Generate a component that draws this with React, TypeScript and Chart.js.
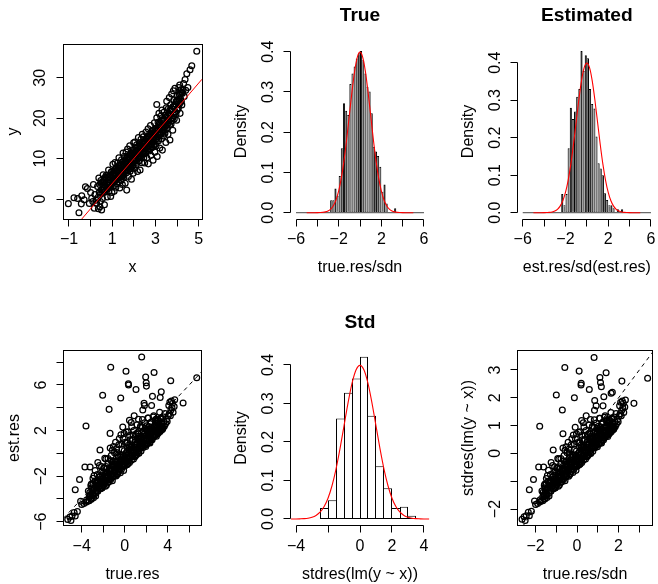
import React, { useEffect, useRef } from "react";
import { Chart, registerables } from "chart.js";

Chart.register(...registerables);

const M = "\u2212";
const FONT = '"Liberation Sans", Arial, Helvetica, sans-serif';

// ---------------- Panel 1: y vs x ----------------
const xyPoints: number[][] = [
  [-1.03, -1.15], [-0.77, 0.33], [-0.54, -3.4], [-0.41, 0.8], [-0.43, -1.2], [-0.24, 3.05], [-0.15, 2.6],
  [-0.06, -1.1], [0.0, 1.6], [0.13, 3.6], [0.17, -2.3], [0.28, -1.1], [0.36, -2.4], [0.43, -1.9], [0.51, -2.7],
  [0.05, 0.2], [0.2, 1.1], [0.25, -0.3], [0.1, -0.6], [-0.3, -0.2], [-0.6, 0.1],
  [0.32, 3.1], [0.35, 0.4], [0.38, 5.2], [0.42, 1.8], [0.45, -0.6], [0.48, 3.9], [0.52, 2.2], [0.55, 0.1],
  [0.58, 6.0], [0.61, 3.0], [0.64, -1.4], [0.66, 4.6], [0.69, 1.9], [0.72, 5.9], [0.74, 2.8], [0.77, 0.5],
  [0.8, 4.1], [0.83, 7.2], [0.85, 2.0], [0.88, 5.3], [0.9, 3.4], [0.93, 0.6], [0.95, 6.6], [0.97, 4.4], [0.99, 1.6],
  [1.01, 5.8], [1.03, 8.6], [1.05, 3.2], [1.07, 6.9], [1.09, 1.9], [1.11, 4.7], [1.13, 9.0], [1.15, 6.1],
  [1.17, 2.9], [1.19, 7.8], [1.21, 5.2], [1.23, 3.8], [1.25, 8.9], [1.27, 6.6], [1.29, 4.3], [1.31, 10.2],
  [1.33, 7.1], [1.35, 2.7], [1.37, 5.9], [1.39, 8.3], [1.41, 4.6], [1.43, 9.7], [1.45, 6.8], [1.47, 3.6],
  [1.49, 7.9], [1.5, 11.4], [1.46, 5.5], [1.34, 7.6], [1.22, 6.9], [1.12, 5.1],
  [1.52, 8.8], [1.54, 5.4], [1.56, 10.6], [1.58, 7.2], [1.6, 3.9], [1.62, 9.4], [1.64, 11.6], [1.66, 6.5],
  [1.67, 2.2], [1.69, 8.7], [1.71, 12.4], [1.73, 7.8], [1.75, 5.6], [1.77, 10.1], [1.79, 8.4], [1.81, 13.2],
  [1.83, 6.9], [1.85, 11.0], [1.87, 9.2], [1.89, 4.9], [1.91, 12.1], [1.93, 8.1], [1.95, 10.7], [1.97, 6.4],
  [1.99, 13.9], [1.55, 7.9], [1.63, 8.0], [1.72, 9.9], [1.8, 10.9], [1.88, 7.5], [1.96, 9.3], [1.68, 10.2],
  [2.01, 11.2], [2.03, 7.6], [2.05, 14.1], [2.07, 9.8], [2.09, 12.6], [2.11, 8.5], [2.13, 13.4], [2.15, 10.9],
  [2.17, 6.8], [2.19, 12.0], [2.21, 15.2], [2.23, 9.4], [2.25, 11.7], [2.27, 13.9], [2.29, 7.2], [2.31, 10.6],
  [2.33, 14.8], [2.35, 12.3], [2.37, 9.0], [2.39, 16.0], [2.41, 11.5], [2.43, 13.1], [2.44, 15.4], [2.46, 10.2],
  [2.48, 12.8], [2.5, 8.9], [2.04, 10.1], [2.12, 11.9], [2.2, 10.3], [2.28, 12.4], [2.36, 11.1], [2.45, 14.0],
  [2.52, 14.4], [2.54, 11.3], [2.56, 16.6], [2.58, 13.0], [2.6, 10.2], [2.62, 15.5], [2.64, 12.4], [2.66, 17.4],
  [2.67, 8.7], [2.69, 14.2], [2.71, 11.9], [2.73, 16.1], [2.75, 13.5], [2.77, 18.2], [2.79, 10.8], [2.81, 15.0],
  [2.83, 12.7], [2.85, 17.0], [2.87, 14.6], [2.89, 9.6], [2.91, 16.4], [2.93, 13.3], [2.95, 18.9], [2.97, 11.6],
  [2.99, 15.9], [2.55, 13.8], [2.65, 14.9], [2.74, 15.3], [2.84, 14.1], [2.94, 15.2],
  [3.01, 17.3], [3.03, 13.1], [3.06, 20.1], [3.06, 23.4], [3.08, 10.5], [3.1, 16.2], [3.12, 19.0], [3.14, 14.4],
  [3.16, 21.2], [3.18, 17.8], [3.2, 12.6], [3.22, 15.9], [3.24, 20.5], [3.26, 18.1], [3.28, 14.9], [3.3, 22.0],
  [3.32, 12.1], [3.34, 17.2], [3.36, 19.7], [3.38, 15.6], [3.4, 21.5], [3.42, 18.4], [3.44, 16.3], [3.46, 20.8],
  [3.48, 14.0], [3.5, 22.6], [3.15, 17.0], [3.35, 18.8],
  [3.52, 24.2], [3.54, 17.6], [3.56, 20.7], [3.58, 16.0], [3.6, 22.4], [3.62, 19.3], [3.64, 25.1], [3.67, 14.6],
  [3.68, 21.0], [3.7, 23.3], [3.72, 18.5], [3.75, 26.0], [3.77, 20.2], [3.8, 17.0], [3.82, 22.9], [3.83, 26.8],
  [3.85, 24.5], [3.87, 19.8], [3.9, 27.4], [3.92, 21.6], [3.95, 24.0], [3.98, 19.5],
  [4.02, 25.7], [4.05, 22.4], [4.08, 27.6], [4.1, 26.0], [4.14, 21.2], [4.16, 24.8], [4.2, 27.1], [4.22, 23.3],
  [4.25, 26.2], [4.28, 27.0], [4.3, 28.6], [4.33, 25.4], [4.37, 29.6], [4.4, 26.9], [4.45, 31.0], [4.5, 27.6],
  [4.6, 32.0], [4.68, 33.0], [4.91, 36.6], [4.12, 28.2],
];
const xyPointsCore: number[][] = [
  [0.4, 1.6], [0.425, 3.6], [0.45, 1.1], [0.475, 4.6], [0.5, 2.3], [0.525, 4.2], [0.55, 1.7], [0.575, 4.3],
  [0.6, 2.2], [0.625, 4.2], [0.65, 1.7], [0.675, 5.4], [0.7, 2.9], [0.725, 5.1], [0.75, 2.6], [0.775, 5.9],
  [0.8, 3.4], [0.825, 5.3], [0.85, 3.4], [0.875, 5.9], [0.9, 2.9], [0.925, 6.0], [0.95, 3.1], [0.975, 6.8],
  [1.0, 3.9], [1.025, 6.0], [1.05, 4.5], [1.075, 6.3], [1.1, 4.3], [1.125, 7.3], [1.15, 4.6], [1.175, 7.0],
  [1.2, 5.0], [1.225, 7.0], [1.25, 5.6], [1.275, 7.8], [1.3, 5.2], [1.325, 8.4], [1.35, 5.9], [1.375, 8.2],
  [1.4, 5.7], [1.425, 8.5], [1.45, 5.6], [1.475, 9.2], [1.5, 6.6], [1.525, 8.6], [1.55, 6.2], [1.575, 9.2],
  [1.6, 7.1], [1.625, 9.0], [1.65, 7.1], [1.675, 10.1], [1.7, 7.7], [1.725, 10.5], [1.75, 7.8], [1.775, 10.0],
  [1.8, 7.9], [1.825, 10.5], [1.85, 7.6], [1.875, 11.3], [1.9, 8.8], [1.925, 10.8], [1.95, 8.4], [1.975, 11.7],
  [2.0, 9.3], [2.025, 11.4], [2.05, 9.5], [2.075, 11.7], [2.1, 9.8], [2.125, 12.0], [2.15, 9.1], [2.175, 12.6],
  [2.2, 10.4], [2.225, 12.4], [2.25, 10.2], [2.275, 13.1], [2.3, 11.1], [2.325, 13.0], [2.35, 10.3], [2.375, 13.8],
  [2.4, 11.5], [2.425, 13.6], [2.45, 11.1], [2.475, 14.2], [2.5, 12.3], [2.525, 14.1], [2.55, 11.6], [2.575, 14.9],
  [2.6, 12.8], [2.625, 14.7], [2.65, 12.3], [2.675, 15.4], [2.7, 13.2], [2.725, 15.6], [2.75, 12.4], [2.775, 15.9],
  [2.8, 13.6], [2.825, 16.0], [2.85, 13.0], [2.875, 16.9], [2.9, 14.1], [2.925, 16.2], [2.95, 13.5], [2.975, 17.3],
  [3.0, 14.7], [3.025, 16.8], [3.05, 15.0], [3.075, 17.2], [3.1, 15.4], [3.125, 17.6], [3.15, 14.8], [3.175, 18.6],
  [3.2, 16.3], [3.225, 18.4], [3.25, 16.2], [3.275, 19.4], [3.3, 17.0], [3.325, 19.6], [3.35, 16.5], [3.375, 19.4],
  [3.4, 17.7], [3.425, 19.7], [3.45, 17.0], [3.475, 20.8], [3.5, 18.2], [3.525, 20.3], [3.55, 18.5], [3.575, 20.7],
  [3.6, 18.9], [3.625, 21.1], [3.65, 18.3], [3.675, 22.1], [3.7, 19.8], [3.725, 21.9], [3.75, 19.3], [3.775, 22.2],
  [3.8, 20.0], [3.825, 22.9], [3.85, 20.7], [3.875, 22.9], [3.9, 21.4], [3.925, 23.5], [3.95, 21.0], [3.975, 24.3],
  [4.0, 22.0], [4.025, 24.4], [4.05, 22.5], [4.075, 24.7], [4.1, 23.4], [4.125, 25.6], [4.15, 23.9], [4.175, 26.1],
  [4.2, 24.2], [4.225, 26.4],
];
const FIT_INTERCEPT = -2.4;
const FIT_SLOPE = 6.22;

// ---------------- Histograms ----------------
const BREAK_MIN = -6;
const BREAK_MAX = 6;
const NARROW_BIN = 0.2;
const trueBinLeft = [-2.8, -2.6, -2.4, -2.2, -2.0, -1.8, -1.6, -1.4, -1.2, -1.0, -0.8, -0.6, -0.4, -0.2, 0.0,
  0.2, 0.4, 0.6, 0.8, 1.0, 1.2, 1.4, 1.6, 1.8, 2.0, 2.2, 2.4, 3.2];
const trueDensity = [0.031, 0.031, 0.06, 0.042, 0.091, 0.16, 0.272, 0.253, 0.243, 0.32, 0.346, 0.363, 0.383, 0.396,
  0.402, 0.379, 0.346, 0.313, 0.301, 0.247, 0.164, 0.152, 0.141, 0.114, 0.052, 0.07, 0.023, 0.011];
const estBinLeft = [-2.4, -2.2, -2.0, -1.8, -1.6, -1.4, -1.2, -1.0, -0.8, -0.6, -0.4, -0.2, 0.0, 0.2, 0.4, 0.6,
  0.8, 1.0, 1.2, 1.4, 1.6, 1.8, 2.0, 2.2, 2.4, 2.8, 3.2];
const estDensity = [0.05, 0.02, 0.05, 0.172, 0.28, 0.25, 0.27, 0.309, 0.33, 0.431, 0.378, 0.42, 0.412, 0.33, 0.29,
  0.278, 0.203, 0.132, 0.118, 0.1, 0.052, 0.034, 0.02, 0.02, 0.012, 0.009, 0.009];
const WIDE_BIN = 0.5;
const stdBinLeft = [-2.5, -2.0, -1.5, -1.0, -0.5, 0.0, 0.5, 1.0, 1.5, 2.0, 2.5, 3.0];
const stdDensity = [0.0286, 0.0485, 0.261, 0.328, 0.365, 0.421, 0.268, 0.137, 0.08, 0.0286, 0.032, 0.0087];

const normX = [-5, -4.75, -4.5, -4.25, -4, -3.75, -3.5, -3.25, -3, -2.75, -2.5, -2.25, -2, -1.75, -1.5, -1.25, -1,
  -0.75, -0.5, -0.25, 0, 0.25, 0.5, 0.75, 1, 1.25, 1.5, 1.75, 2, 2.25, 2.5, 2.75, 3, 3.25, 3.5, 3.75, 4, 4.25, 4.5,
  4.75, 5];
const normY = [0, 0, 0, 0, 0.0001, 0.0004, 0.0009, 0.002, 0.0044, 0.0091, 0.0175, 0.0317, 0.054, 0.0863, 0.1295,
  0.1826, 0.242, 0.3011, 0.3521, 0.3867, 0.3989, 0.3867, 0.3521, 0.3011, 0.242, 0.1826, 0.1295, 0.0863, 0.054,
  0.0317, 0.0175, 0.0091, 0.0044, 0.002, 0.0009, 0.0004, 0.0001, 0, 0, 0, 0];

// ---------------- Panel 4: est.res vs true.res ----------------
const resPoints: number[][] = [
  [-5.3, -5.8], [-5.1, -5.6], [-5.0, -5.9], [-4.9, -5.5], [-4.7, -5.2], [-4.6, -5.5], [-4.4, -5.1], [-4.1, -4.2],
  [-4.0, -4.5], [-3.8, -4.4], [-3.6, -4.3], [-3.55, -4.1], [-4.6, -3.2], [-4.2, -2.3], [-3.7, -1.2], [-3.6, 2.4],
  [-3.45, -4.2], [-3.38, -3.3], [-3.3, -3.8], [-3.22, -1.2], [-3.15, -4.0], [-3.1, -2.7], [-3.02, -3.6],
  [-2.95, -2.2], [-2.9, -3.9], [-2.82, -3.1], [-2.75, -1.5], [-2.7, -3.5], [-2.62, -2.6], [-2.55, -3.3],
  [-2.5, -0.8], [-2.44, -3.0], [-2.38, -2.1], [-2.3, 0.3], [-2.25, -3.1], [-2.2, -2.4], [-2.12, -1.6],
  [-2.05, 5.1], [-2.05, -2.9], [-2.0, -2.2],
  [-1.95, -2.8], [-1.9, -1.3], [-1.86, -2.5], [-1.8, -2.9], [-1.75, -0.5], [-1.7, -2.2], [-1.65, -1.7],
  [-1.6, -2.6], [-1.55, -0.9], [-1.5, -2.0], [-1.45, 3.86], [-1.45, -2.5], [-1.4, -1.4], [-1.36, 1.75],
  [-1.3, 7.55], [-1.3, -2.3], [-1.25, -0.2], [-1.2, -1.9], [-1.15, -2.4], [-1.1, -1.1], [-1.05, 0.6],
  [-1.0, -2.0], [-1.02, -1.6],
  [-0.95, -1.9], [-0.9, -0.7], [-0.86, -1.5], [-0.8, -2.0], [-0.75, 0.4], [-0.7, -1.2], [-0.66, -1.8],
  [-0.6, -0.3], [-0.55, -1.6], [-0.5, 1.3], [-0.46, -1.0], [-0.4, -1.7], [-0.37, 4.86], [-0.35, -0.6],
  [-0.3, -1.4], [-0.25, 0.8], [-0.2, -1.2], [-0.15, -0.3], [-0.1, -1.5], [-0.06, 1.75], [-0.02, -0.9],
  [-0.52, -0.9], [-0.18, 2.3],
  [0.03, -1.1], [0.08, -0.2], [0.12, 7.2], [0.12, -0.8], [0.17, 0.9], [0.22, -1.0], [0.26, -0.4], [0.3, 1.9],
  [0.34, 6.1], [0.36, 6.0], [0.35, -0.7], [0.4, 0.3], [0.45, -0.8], [0.5, 1.2], [0.55, -0.3], [0.6, 2.7],
  [0.62, -0.6], [0.68, 0.5], [0.72, -0.2], [0.78, 1.6], [0.82, -0.5], [0.88, 3.3], [0.9, 0.1], [0.95, -0.3],
  [0.98, 1.0], [0.44, 2.9], [0.7, 1.2],
  [1.02, -0.2], [1.05, 5.6], [1.08, 0.7], [1.12, -0.1], [1.18, 1.8], [1.22, 0.2], [1.28, 3.0], [1.32, 0.0],
  [1.38, 1.1], [1.42, 0.4], [1.48, 2.4], [1.52, 0.2], [1.58, 8.46], [1.58, 1.3], [1.62, 0.6], [1.68, 3.8],
  [1.72, 0.5], [1.78, 1.7], [1.8, 4.4], [1.84, 4.2], [1.85, 0.7], [1.9, 2.2], [1.95, 6.7], [1.96, 0.6],
  [2.0, 6.2], [2.02, 5.9], [1.25, 1.5], [1.65, 2.3],
  [2.05, 0.8], [2.1, 1.9], [2.15, 0.9], [2.2, 3.1], [2.25, 1.1], [2.3, 1.5], [2.35, 0.9], [2.4, 2.6],
  [2.45, 1.2], [2.5, 4.2], [2.55, 1.2], [2.6, 2.0], [2.65, 1.4], [2.73, 7.1], [2.7, 3.3], [2.75, 1.5],
  [2.8, 2.4], [2.85, 1.6], [2.9, 3.0], [2.95, 1.5], [3.0, 2.1], [2.58, 5.0], [2.38, 1.4],
  [3.05, 1.7], [3.1, 2.9], [3.15, 1.8], [3.2, 2.3], [3.25, 3.6], [3.3, 4.9], [3.32, 2.0], [3.4, 5.4],
  [3.45, 2.6], [3.5, 2.1], [3.55, 3.2], [3.6, 2.3], [3.65, 2.8], [3.7, 2.4], [3.75, 3.5], [3.8, 2.6],
  [3.9, 3.0], [3.95, 2.8], [3.35, 3.1],
  [4.05, 3.3], [4.1, 4.2], [4.15, 3.5], [4.2, 4.5], [4.25, 3.3], [4.28, 6.38], [4.3, 3.8], [4.35, 4.6],
  [4.4, 4.0], [4.45, 4.4], [4.5, 3.6], [4.6, 4.1], [4.65, 4.7], [5.43, 4.42], [6.7, 6.64],
];
const resPointsCore: number[][] = [
  [-3.3, -4.16], [-3.25, -3.44], [-3.2, -3.7], [-3.15, -2.83], [-3.1, -4.03], [-3.05, -3.27], [-3.0, -3.62],
  [-2.95, -2.7], [-2.9, -3.61], [-2.85, -1.96], [-2.8, -3.05], [-2.75, -2.49], [-2.7, -3.75], [-2.65, -2.59],
  [-2.6, -3.06], [-2.55, -1.87], [-2.5, -3.32], [-2.45, -2.58], [-2.4, -2.71], [-2.35, -1.08], [-2.3, -3.11],
  [-2.25, -1.96], [-2.2, -2.49], [-2.15, -1.17], [-2.1, -3.05], [-2.05, -1.97], [-2.0, -2.54], [-1.95, -1.29],
  [-1.9, -2.57], [-1.85, -0.44], [-1.8, -1.89], [-1.75, -1.17], [-1.7, -2.8], [-1.65, -1.33], [-1.6, -1.96],
  [-1.55, -0.45], [-1.5, -2.31], [-1.45, -1.39], [-1.4, -1.58], [-1.35, 0.46], [-1.3, -2.11], [-1.25, -0.66],
  [-1.2, -1.35], [-1.15, 0.28], [-1.1, -2.07], [-1.05, -0.74], [-1.0, -1.47], [-0.95, 0.04], [-0.9, -1.55],
  [-0.85, 0.97], [-0.8, -0.78], [-0.75, 0.06], [-0.7, -1.86], [-0.65, -0.18], [-0.6, -0.93], [-0.55, 0.76],
  [-0.5, -1.33], [-0.45, -0.33], [-0.4, -0.57], [-0.35, 1.62], [-0.3, -1.14], [-0.25, 0.37], [-0.2, -0.38],
  [-0.15, 1.3], [-0.1, -1.12], [-0.05, 0.22], [0.0, -0.54], [0.05, 0.96], [0.1, -0.62], [0.15, 1.86],
  [0.2, 0.13], [0.25, 0.95], [0.3, -0.92], [0.35, 0.7], [0.4, -0.02], [0.45, 1.57], [0.5, -0.41], [0.55, 0.54],
  [0.6, 0.31], [0.65, 2.34], [0.7, -0.23], [0.75, 1.17], [0.8, 0.47], [0.85, 2.01], [0.9, -0.2], [0.95, 1.01],
  [1.0, 0.34], [1.05, 1.69], [1.1, 0.28], [1.15, 2.5], [1.2, 0.96], [1.25, 1.69], [1.3, 0.03], [1.35, 1.48],
  [1.4, 0.84], [1.45, 2.27], [1.5, 0.5], [1.55, 1.35], [1.6, 1.15], [1.65, 2.96], [1.7, 0.68], [1.75, 1.92],
  [1.8, 1.32], [1.85, 2.68], [1.9, 0.72], [1.95, 1.8], [2.0, 1.22], [2.05, 2.41], [2.1, 1.17], [2.15, 3.1],
  [2.2, 1.74], [2.25, 2.36], [2.3, 0.97], [2.35, 2.15], [2.4, 1.63], [2.45, 2.75], [2.5, 1.37], [2.55, 2.02],
  [2.6, 1.86], [2.65, 3.18], [2.7, 1.54], [2.75, 2.41], [2.8, 1.98], [2.85, 2.89], [2.9, 1.62], [2.95, 2.3],
  [3.0, 1.94], [3.05, 2.64], [3.1, 1.92], [3.15, 2.89], [3.2, 2.18], [3.25, 2.44], [3.3, 1.92], [3.35, 2.31],
  [3.4, 2.14], [3.45, 2.4], [3.5, 2.13], [3.55, 2.21],
];
const resPointsBase: number[][] = [
  [-3.17, -3.62], [-3.07, -3.03], [-2.97, -3.73], [-2.87, -3.04], [-2.77, -2.44], [-2.67, -3.25], [-2.57, -2.45],
  [-2.47, -2.76], [-2.37, -2.87], [-2.27, -2.27], [-2.17, -2.98], [-2.07, -2.28], [-1.97, -1.69], [-1.87, -2.49],
  [-1.77, -1.7], [-1.67, -2.0], [-1.57, -2.11], [-1.47, -1.52], [-1.37, -2.22], [-1.27, -1.53], [-1.17, -0.93],
  [-1.07, -1.74], [-0.97, -0.94], [-0.87, -1.25], [-0.77, -1.36], [-0.67, -0.76], [-0.57, -1.47], [-0.47, -0.77],
  [-0.37, -0.18], [-0.27, -0.98], [-0.17, -0.19], [-0.07, -0.49], [0.03, -0.6], [0.13, -0.01], [0.23, -0.71],
  [0.33, -0.02], [0.43, 0.58], [0.53, -0.23], [0.63, 0.57], [0.73, 0.26], [0.83, 0.15], [0.93, 0.75], [1.03, 0.04],
  [1.13, 0.74], [1.23, 1.33], [1.33, 0.53], [1.43, 1.32], [1.53, 1.02], [1.63, 0.91], [1.73, 1.5], [1.83, 0.8],
  [1.93, 1.49], [2.03, 2.09], [2.13, 1.28], [2.23, 2.08], [2.33, 1.77], [2.43, 1.67], [2.53, 2.26], [2.63, 1.55],
  [2.73, 2.25], [2.83, 2.84], [2.93, 2.04], [3.03, 2.83], [3.13, 2.53], [3.23, 2.42], [3.33, 3.02], [3.43, 2.31],
];

// ---------------- Panel 6: stdres vs true.res/sdn ----------------
const stdPoints: number[][] = [
  [-2.65, -2.37], [-2.55, -2.28], [-2.5, -2.41], [-2.45, -2.24], [-2.35, -2.12], [-2.3, -2.24], [-2.2, -2.08],
  [-2.05, -1.71], [-2.0, -1.84], [-1.9, -1.8], [-1.8, -1.75], [-1.78, -1.67], [-2.3, -1.31], [-2.1, -0.94],
  [-1.85, -0.49], [-1.8, 0.98],
  [-1.73, -1.71], [-1.69, -1.35], [-1.65, -1.55], [-1.61, -0.49], [-1.58, -1.63], [-1.55, -1.1], [-1.51, -1.47],
  [-1.48, -0.9], [-1.45, -1.59], [-1.41, -1.26], [-1.38, -0.61], [-1.35, -1.43], [-1.31, -1.06], [-1.28, -1.35],
  [-1.25, -0.33], [-1.22, -1.22], [-1.19, -0.86], [-1.15, 0.12], [-1.13, -1.26], [-1.1, -0.98], [-1.06, -0.65],
  [-1.0, 2.1], [-1.03, -1.18], [-1.0, -0.9],
  [-0.98, -1.14], [-0.95, -0.53], [-0.93, -1.02], [-0.9, -1.18], [-0.88, -0.2], [-0.85, -0.9], [-0.83, -0.69],
  [-0.8, -1.06], [-0.78, -0.37], [-0.75, -0.82], [-0.71, 1.56], [-0.73, -1.02], [-0.7, -0.57], [-0.68, 0.71],
  [-0.59, 3.09], [-0.65, -0.94], [-0.63, -0.08], [-0.6, -0.78], [-0.58, -0.98], [-0.55, -0.45], [-0.53, 0.24],
  [-0.5, -0.82], [-0.51, -0.65],
  [-0.48, -0.78], [-0.45, -0.29], [-0.43, -0.61], [-0.4, -0.82], [-0.38, 0.16], [-0.35, -0.49], [-0.33, -0.73],
  [-0.3, -0.12], [-0.28, -0.65], [-0.25, 0.53], [-0.23, -0.41], [-0.2, -0.69], [-0.13, 2.0], [-0.18, -0.24],
  [-0.15, -0.57], [-0.13, 0.33], [-0.1, -0.49], [-0.08, -0.12], [-0.05, -0.61], [-0.03, 0.71], [-0.01, -0.37],
  [-0.26, -0.37], [-0.09, 0.94],
  [0.02, -0.45], [0.04, -0.08], [0.1, 2.96], [0.06, -0.33], [0.09, 0.37], [0.11, -0.41], [0.13, -0.16],
  [0.15, 0.78], [0.2, 2.52], [0.19, 2.46], [0.18, -0.29], [0.2, 0.12], [0.23, -0.33], [0.25, 0.49], [0.28, -0.12],
  [0.3, 1.1], [0.31, -0.24], [0.34, 0.2], [0.36, -0.08], [0.39, 0.65], [0.41, -0.2], [0.44, 1.35], [0.45, 0.04],
  [0.48, -0.12], [0.49, 0.41], [0.22, 1.18], [0.35, 0.49],
  [0.51, -0.08], [0.59, 2.3], [0.54, 0.29], [0.56, -0.04], [0.59, 0.73], [0.61, 0.08], [0.64, 1.22], [0.66, 0.0],
  [0.69, 0.45], [0.71, 0.16], [0.74, 0.98], [0.76, 0.08], [0.82, 3.45], [0.79, 0.53], [0.81, 0.24], [0.84, 1.55],
  [0.86, 0.2], [0.89, 0.69], [0.85, 1.9], [0.92, 1.71], [0.93, 0.29], [0.95, 0.9], [1.1, 2.73], [0.98, 0.24],
  [1.13, 2.55], [1.17, 2.4], [0.63, 0.61], [0.83, 0.94],
  [1.03, 0.33], [1.05, 0.78], [1.08, 0.37], [1.1, 1.26], [1.13, 0.45], [1.15, 0.61], [1.18, 0.37], [1.2, 1.06],
  [1.23, 0.49], [1.25, 1.71], [1.28, 0.49], [1.3, 0.82], [1.33, 0.57], [1.4, 2.9], [1.35, 1.35], [1.38, 0.61],
  [1.4, 0.98], [1.43, 0.65], [1.45, 1.22], [1.48, 0.61], [1.5, 0.86], [1.29, 2.04], [1.19, 0.57],
  [1.53, 0.69], [1.55, 1.18], [1.58, 0.73], [1.6, 0.94], [1.63, 1.47], [1.64, 2.16], [1.66, 0.82], [1.7, 2.2],
  [1.73, 1.06], [1.75, 0.86], [1.78, 1.31], [1.8, 0.94], [1.83, 1.14], [1.85, 0.98], [1.88, 1.43], [1.9, 1.06],
  [1.95, 1.22], [1.98, 1.14], [1.68, 1.26],
  [2.03, 1.35], [2.05, 1.71], [2.08, 1.43], [2.1, 1.84], [2.13, 1.35], [2.16, 2.6], [2.15, 1.55], [2.18, 1.88],
  [2.2, 1.63], [2.23, 1.8], [2.25, 1.47], [2.3, 1.67], [2.33, 1.92], [2.74, 1.8], [3.4, 2.7],
];
const stdPointsCore: number[][] = [
  [-1.65, -1.7], [-1.63, -1.4], [-1.6, -1.51], [-1.58, -1.15], [-1.55, -1.64], [-1.53, -1.33], [-1.5, -1.48],
  [-1.48, -1.1], [-1.45, -1.47], [-1.43, -0.8], [-1.4, -1.24], [-1.38, -1.02], [-1.35, -1.53], [-1.33, -1.06],
  [-1.3, -1.25], [-1.28, -0.76], [-1.25, -1.35], [-1.23, -1.05], [-1.2, -1.11], [-1.18, -0.44], [-1.15, -1.27],
  [-1.13, -0.8], [-1.1, -1.02], [-1.08, -0.48], [-1.05, -1.24], [-1.03, -0.8], [-1.0, -1.04], [-0.98, -0.53],
  [-0.95, -1.05], [-0.93, -0.18], [-0.9, -0.77], [-0.88, -0.48], [-0.85, -1.14], [-0.83, -0.54], [-0.8, -0.8],
  [-0.78, -0.18], [-0.75, -0.94], [-0.73, -0.57], [-0.7, -0.64], [-0.68, 0.19], [-0.65, -0.86], [-0.63, -0.27],
  [-0.6, -0.55], [-0.58, 0.11], [-0.55, -0.84], [-0.53, -0.3], [-0.5, -0.6], [-0.48, 0.02], [-0.45, -0.63],
  [-0.43, 0.4], [-0.4, -0.32], [-0.38, 0.02], [-0.35, -0.76], [-0.33, -0.07], [-0.3, -0.38], [-0.28, 0.31],
  [-0.25, -0.54], [-0.23, -0.13], [-0.2, -0.23], [-0.18, 0.66], [-0.15, -0.47], [-0.13, 0.15], [-0.1, -0.16],
  [-0.08, 0.53], [-0.05, -0.46], [-0.03, 0.09], [0.0, -0.22], [0.03, 0.39], [0.05, -0.25], [0.08, 0.76],
  [0.1, 0.05], [0.13, 0.39], [0.15, -0.38], [0.18, 0.29], [0.2, -0.01], [0.23, 0.64], [0.25, -0.17], [0.28, 0.22],
  [0.3, 0.13], [0.33, 0.95], [0.35, -0.09], [0.38, 0.48], [0.4, 0.19], [0.43, 0.82], [0.45, -0.08], [0.48, 0.41],
  [0.5, 0.14], [0.53, 0.69], [0.55, 0.11], [0.58, 1.02], [0.6, 0.39], [0.63, 0.69], [0.65, 0.01], [0.68, 0.6],
  [0.7, 0.34], [0.73, 0.93], [0.75, 0.2], [0.78, 0.55], [0.8, 0.47], [0.83, 1.21], [0.85, 0.28], [0.88, 0.78],
  [0.9, 0.54], [0.93, 1.09], [0.95, 0.29], [0.98, 0.73], [1.0, 0.5], [1.03, 0.98], [1.05, 0.48], [1.08, 1.26],
  [1.1, 0.71], [1.13, 0.96], [1.15, 0.4], [1.18, 0.88], [1.2, 0.67], [1.23, 1.12], [1.25, 0.56], [1.28, 0.82],
  [1.3, 0.76], [1.33, 1.3], [1.35, 0.63], [1.38, 0.98], [1.4, 0.81], [1.43, 1.18], [1.45, 0.66], [1.48, 0.94],
  [1.5, 0.79], [1.53, 1.08], [1.55, 0.78], [1.58, 1.18], [1.6, 0.89], [1.63, 1.0], [1.65, 0.78], [1.68, 0.94],
  [1.7, 0.87], [1.73, 0.98], [1.75, 0.87], [1.78, 0.9],
];
const stdPointsBase: number[][] = [
  [-1.59, -1.48], [-1.54, -1.24], [-1.49, -1.52], [-1.44, -1.24], [-1.39, -1.0], [-1.34, -1.33], [-1.29, -1.0],
  [-1.24, -1.13], [-1.19, -1.17], [-1.14, -0.93], [-1.09, -1.22], [-1.04, -0.93], [-0.99, -0.69], [-0.94, -1.02],
  [-0.89, -0.69], [-0.84, -0.82], [-0.79, -0.86], [-0.74, -0.62], [-0.69, -0.91], [-0.64, -0.62], [-0.59, -0.38],
  [-0.54, -0.71], [-0.49, -0.38], [-0.44, -0.51], [-0.39, -0.55], [-0.34, -0.31], [-0.29, -0.6], [-0.24, -0.31],
  [-0.19, -0.07], [-0.14, -0.4], [-0.09, -0.08], [-0.04, -0.2], [0.02, -0.24], [0.07, 0.0], [0.12, -0.29],
  [0.17, -0.01], [0.22, 0.24], [0.27, -0.09], [0.32, 0.23], [0.37, 0.11], [0.42, 0.06], [0.47, 0.31], [0.52, 0.02],
  [0.57, 0.3], [0.62, 0.54], [0.67, 0.22], [0.72, 0.54], [0.77, 0.42], [0.82, 0.37], [0.87, 0.61], [0.92, 0.33],
  [0.97, 0.61], [1.02, 0.85], [1.07, 0.52], [1.12, 0.85], [1.17, 0.72], [1.22, 0.68], [1.27, 0.92], [1.32, 0.63],
  [1.37, 0.92], [1.42, 1.16], [1.47, 0.83], [1.52, 1.15], [1.57, 1.03], [1.62, 0.99], [1.67, 1.23], [1.72, 0.94],
];
const IDENTITY_INTERCEPT = 0;
const IDENTITY_SLOPE = 1;

// ---------------- Ticks ----------------
const ticksX1 = [-1, 0, 1, 2, 3, 4, 5];
const labelsX1 = [`${M}1`, "", "1", "", "3", "", "5"];
const ticksY1 = [0, 10, 20, 30];
const labelsY1 = ["0", "10", "20", "30"];
const ticksXHist = [-6, -4, -2, 0, 2, 4, 6];
const labelsXHist = [`${M}6`, "", `${M}2`, "", "2", "", "6"];
const ticksYDens = [0, 0.1, 0.2, 0.3, 0.4];
const labelsYDens = ["0.0", "0.1", "0.2", "0.3", "0.4"];
const ticksX4 = [-4, -2, 0, 2, 4, 6];
const labelsX4 = [`${M}4`, "", "0", "", "4", ""];
const ticksY4 = [-6, -4, -2, 0, 2, 4, 6, 8];
const labelsY4 = [`${M}6`, "", `${M}2`, "", "2", "", "6", ""];
const ticksX5 = [-4, -2, 0, 2, 4];
const labelsX5 = [`${M}4`, "", "0", "2", "4"];
const ticksX6 = [-2, -1, 0, 1, 2, 3];
const labelsX6 = [`${M}2`, "", "0", "", "2", ""];
const ticksY6 = [-2, -1, 0, 1, 2, 3];
const labelsY6 = [`${M}2`, "", "0", "1", "2", "3"];

// ---------------- Layout ----------------
const PANELS: any[] = [
  {
    kind: "scatter", region: { left: 0, top: 0, w: 226, h: 292 }, plot: { l: 63, t: 44, r: 202, b: 219 },
    xRange: [-1.2775, 5.153], yRange: [-4.95, 38.37], xTicks: ticksX1, xLabels: labelsX1, yTicks: ticksY1,
    yLabels: labelsY1, xTitle: "x", yTitle: "y", main: "", points: xyPoints.concat(xyPointsCore),
    line: { a: FIT_INTERCEPT, b: FIT_SLOPE, color: "#ff0000", dash: [] },
  },
  {
    kind: "hist", region: { left: 226, top: 0, w: 220, h: 292 }, plot: { l: 290.9, t: 44, r: 429.1, b: 219 },
    xRange: [-6.48, 6.48], yRange: [-0.01565, 0.4191], xTicks: ticksXHist, xLabels: labelsXHist,
    yTicks: ticksYDens, yLabels: labelsYDens, xTitle: "true.res/sdn", yTitle: "Density", main: "True",
    bins: trueBinLeft, dens: trueDensity, width: NARROW_BIN, zeroLine: true, bw: 1, fill: "#707070",
  },
  {
    kind: "hist", region: { left: 446, top: 0, w: 212, h: 292 }, plot: { l: 517.6, t: 44, r: 656.1, b: 219 },
    xRange: [-6.48, 6.48], yRange: [-0.0168, 0.4499], xTicks: ticksXHist, xLabels: labelsXHist,
    yTicks: ticksYDens, yLabels: labelsYDens, xTitle: "est.res/sd(est.res)", yTitle: "Density", main: "Estimated",
    bins: estBinLeft, dens: estDensity, width: NARROW_BIN, zeroLine: true, bw: 1, fill: "#707070",
  },
  {
    kind: "scatter", region: { left: 0, top: 292, w: 226, h: 292 }, plot: { l: 63.3, t: 350.7, r: 201.7, b: 525.3 },
    xRange: [-5.71, 7.16], yRange: [-6.32, 9.01], xTicks: ticksX4, xLabels: labelsX4, yTicks: ticksY4,
    yLabels: labelsY4, xTitle: "true.res", yTitle: "est.res", main: "",
    points: resPoints.concat(resPointsCore, resPointsBase),
    line: { a: IDENTITY_INTERCEPT, b: IDENTITY_SLOPE, color: "#000000", dash: [4, 4] },
  },
  {
    kind: "hist", region: { left: 226, top: 292, w: 220, h: 292 }, plot: { l: 290.9, t: 350.7, r: 429.1, b: 525.3 },
    xRange: [-4.32, 4.32], yRange: [-0.0164, 0.437], xTicks: ticksX5, xLabels: labelsX5,
    yTicks: ticksYDens, yLabels: labelsYDens, xTitle: "stdres(lm(y ~ x))", yTitle: "Density", main: "Std",
    bins: stdBinLeft, dens: stdDensity, width: WIDE_BIN, zeroLine: false, bw: 1, fill: "#ffffff",
  },
  {
    kind: "scatter", region: { left: 446, top: 292, w: 212, h: 292 }, plot: { l: 517.4, t: 350.7, r: 656, b: 525.3 },
    xRange: [-2.875, 3.647], yRange: [-2.586, 3.694], xTicks: ticksX6, xLabels: labelsX6, yTicks: ticksY6,
    yLabels: labelsY6, xTitle: "true.res/sdn", yTitle: "stdres(lm(y ~ x))", main: "",
    points: stdPoints.concat(stdPointsCore, stdPointsBase),
    line: { a: IDENTITY_INTERCEPT, b: IDENTITY_SLOPE, color: "#000000", dash: [4, 4] },
  },
];

function rAxesPlugin(p: any) {
  return {
    id: "rAxes",
    afterDraw(chart: any) {
      const ctx = chart.ctx;
      const a = chart.chartArea;
      const xs = chart.scales.x;
      const ys = chart.scales.y;
      const snap = (v: number) => Math.floor(v) + 0.5;
      ctx.save();
      ctx.strokeStyle = "#000";
      ctx.fillStyle = "#000";
      ctx.lineWidth = 1;
      const L = snap(a.left), R = snap(a.right), T = snap(a.top), B = snap(a.bottom);
      if (p.kind === "scatter") {
        ctx.strokeRect(L, T, R - L, B - T);
      }
      const xp = p.xTicks.map((v: number) => snap(xs.getPixelForValue(v)));
      ctx.beginPath();
      ctx.moveTo(xp[0], B);
      ctx.lineTo(xp[xp.length - 1], B);
      xp.forEach((x: number) => { ctx.moveTo(x, B); ctx.lineTo(x, B + 7); });
      ctx.stroke();
      const yp = p.yTicks.map((v: number) => snap(ys.getPixelForValue(v)));
      ctx.beginPath();
      ctx.moveTo(L, yp[0]);
      ctx.lineTo(L, yp[yp.length - 1]);
      yp.forEach((y: number) => { ctx.moveTo(L, y); ctx.lineTo(L - 7, y); });
      ctx.stroke();
      ctx.font = `16px ${FONT}`;
      ctx.textAlign = "center";
      ctx.textBaseline = "middle";
      p.xLabels.forEach((s: string, i: number) => {
        if (s) ctx.fillText(s, xs.getPixelForValue(p.xTicks[i]), a.bottom + 21);
      });
      p.yLabels.forEach((s: string, i: number) => {
        if (!s) return;
        ctx.save();
        ctx.translate(a.left - 22, ys.getPixelForValue(p.yTicks[i]));
        ctx.rotate(-Math.PI / 2);
        ctx.fillText(s, 0, 0);
        ctx.restore();
      });
      const cx = (a.left + a.right) / 2;
      const cy = (a.top + a.bottom) / 2;
      ctx.fillText(p.xTitle, cx, a.bottom + 49);
      ctx.save();
      ctx.translate(a.left - 49, cy);
      ctx.rotate(-Math.PI / 2);
      ctx.fillText(p.yTitle, 0, 0);
      ctx.restore();
      if (p.main) {
        ctx.font = `bold 19.2px ${FONT}`;
        ctx.fillText(p.main, cx, a.top - 28);
      }
      ctx.restore();
    },
  };
}

function buildConfig(p: any) {
  const padding = {
    left: p.plot.l - p.region.left,
    top: p.plot.t - p.region.top,
    right: p.region.left + p.region.w - p.plot.r,
    bottom: p.region.top + p.region.h - p.plot.b,
  };
  const setTicks = (list: number[]) => (scale: any) => {
    scale.ticks = list.map((v) => ({ value: v }));
  };
  const scales = {
    x: { type: "linear", display: false, min: p.xRange[0], max: p.xRange[1], offset: false, afterBuildTicks: setTicks(p.xTicks) },
    y: { type: "linear", display: false, min: p.yRange[0], max: p.yRange[1], afterBuildTicks: setTicks(p.yTicks) },
  };
  const options: any = {
    responsive: false,
    animation: false,
    events: [],
    layout: { padding },
    plugins: { legend: { display: false }, tooltip: { enabled: false }, title: { display: false } },
    scales,
  };
  let datasets: any[] = [];
  let type = "scatter";
  if (p.kind === "scatter") {
    const x0 = p.xRange[0], x1 = p.xRange[1];
    datasets = [
      {
        type: "line",
        data: [{ x: x0, y: p.line.a + p.line.b * x0 }, { x: x1, y: p.line.a + p.line.b * x1 }],
        borderColor: p.line.color,
        borderWidth: 1,
        borderDash: p.line.dash,
        pointRadius: 0,
        fill: false,
      },
      {
        type: "scatter",
        data: p.points.map((pt: number[]) => ({ x: pt[0], y: pt[1] })),
        pointStyle: "circle",
        pointRadius: 2.9,
        borderWidth: 1.25,
        borderColor: "#000",
        backgroundColor: "rgba(0,0,0,0)",
        pointBorderColor: "#000",
        pointBackgroundColor: "rgba(0,0,0,0)",
        pointBorderWidth: 1.25,
      },
    ];
  } else {
    type = "bar";
    const w = p.width;
    const heightAt = (left: number) => {
      const i = p.bins.findIndex((b: number) => Math.abs(b - left) < 1e-6);
      return i < 0 ? 0 : p.dens[i];
    };
    const bws = p.bins.map((left: number, i: number) => {
      const h = p.dens[i];
      return {
        top: p.bw,
        bottom: p.bw,
        left: heightAt(left - w) <= h ? p.bw : 0,
        right: heightAt(left + w) < h ? p.bw : 0,
      };
    });
    datasets.push({
      type: "line",
      data: normX.map((x, i) => ({ x, y: normY[i] })),
      borderColor: "#ff0000",
      borderWidth: 1.1,
      pointRadius: 0,
      cubicInterpolationMode: "monotone",
      fill: false,
    });
    if (p.zeroLine) {
      datasets.push({
        type: "line",
        data: [{ x: BREAK_MIN, y: 0 }, { x: BREAK_MAX, y: 0 }],
        borderColor: "#6a6a6a",
        borderWidth: 1.2,
        pointRadius: 0,
        fill: false,
      });
    }
    datasets.push({
      type: "bar",
      data: p.bins.map((left: number, i: number) => ({ x: left + w / 2, y: p.dens[i] })),
      backgroundColor: p.fill,
      borderColor: "#000000",
      borderWidth: (c: any) => bws[c.dataIndex] || 0,
      borderSkipped: false,
      inflateAmount: 0,
      barPercentage: 1,
      categoryPercentage: 1,
      grouped: false,
    });
  }
  return {
    type,
    data: { datasets },
    options,
    plugins: [rAxesPlugin(p)],
  } as any;
}

export default function App() {
  const refs = useRef<(HTMLCanvasElement | null)[]>([]);
  useEffect(() => {
    const charts = PANELS.map((p, i) => new Chart(refs.current[i] as HTMLCanvasElement, buildConfig(p)));
    return () => {
      charts.forEach((c) => c.destroy());
    };
  }, []);
  return (
    <div style={{ position: "fixed", left: 0, top: 0, width: 658, height: 584, background: "#ffffff" }}>
      {PANELS.map((p, i) => (
        <canvas
          key={i}
          ref={(el) => {
            refs.current[i] = el;
          }}
          width={p.region.w}
          height={p.region.h}
          style={{ position: "absolute", left: p.region.left, top: p.region.top, width: p.region.w, height: p.region.h }}
        />
      ))}
    </div>
  );
}
